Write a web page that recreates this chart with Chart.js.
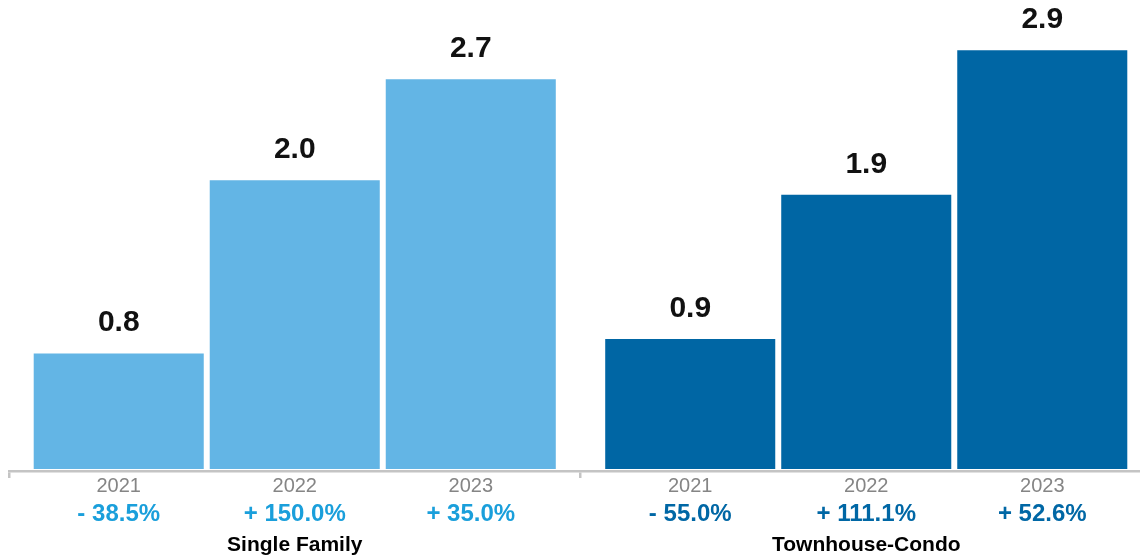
<!DOCTYPE html>
<html>
<head>
<meta charset="utf-8">
<script src="https://cdn.jsdelivr.net/npm/chart.js@4"></script>
<style>
  html, body { margin: 0; padding: 0; background: #fff; overflow: hidden; }
  .chart-wrap { position: relative; width: 1161px; height: 558px; }
</style>
</head>
<body>
<div class="chart-wrap">
  <canvas id="inventoryChart"></canvas>
</div>
<script>
// Chart data
const groups = ['Single Family', 'Townhouse-Condo'];
const years = ['2021', '2022', '2023'];
const singleFamily = [0.8, 2.0, 2.7];
const townhouseCondo = [0.9, 1.9, 2.9];
const singleFamilyChange = ['- 38.5%', '+ 150.0%', '+ 35.0%'];
const townhouseCondoChange = ['- 55.0%', '+ 111.1%', '+ 52.6%'];

const FONT = 'Helvetica, Arial, "Liberation Sans", sans-serif';
const barColors = ['#63b5e5', '#0066a4'];
const changeColors = ['#1a9fdb', '#0067a5'];
const changeLabels = [singleFamilyChange, townhouseCondoChange];

// Value labels above bars, year + change labels below the axis
const barLabels = {
  id: 'barLabels',
  afterDatasetsDraw(chart) {
    const ctx = chart.ctx;
    const axisTop = chart.scales.x.top;
    ctx.save();
    ctx.textAlign = 'center';
    ctx.textBaseline = 'alphabetic';
    chart.data.datasets.forEach((ds, i) => {
      const meta = chart.getDatasetMeta(i);
      meta.data.forEach((bar, g) => {
        ctx.fillStyle = '#111';
        ctx.font = 'bold 30px ' + FONT;
        ctx.fillText(ds.data[g].toFixed(1), bar.x, bar.y - 22);

        ctx.fillStyle = '#858585';
        ctx.font = '20px ' + FONT;
        ctx.fillText(years[i], bar.x, axisTop + 21);

        ctx.fillStyle = changeColors[g];
        ctx.font = 'bold 24px ' + FONT;
        ctx.fillText(changeLabels[g][i], bar.x, axisTop + 50);
      });
    });
    ctx.restore();
  }
};

const datasets = years.map((year, i) => ({
  label: year,
  data: [singleFamily[i], townhouseCondo[i]],
  backgroundColor: barColors,
  borderWidth: 0,
  categoryPercentage: 0.924,
  barPercentage: 0.966
}));

new Chart(document.getElementById('inventoryChart').getContext('2d'), {
  type: 'bar',
  data: {
    labels: groups,
    datasets: datasets
  },
  options: {
    responsive: true,
    maintainAspectRatio: false,
    animation: false,
    layout: {
      padding: { top: 7, left: 9, right: 9, bottom: 0 }
    },
    plugins: {
      legend: { display: false },
      tooltip: { enabled: false }
    },
    scales: {
      x: {
        offset: true,
        afterFit: (scale) => { scale.height = 87; },
        border: { display: true, color: '#c4c4c4', width: 2.5 },
        grid: {
          offset: true,
          drawOnChartArea: false,
          drawTicks: true,
          tickLength: 7,
          color: '#c4c4c4',
          lineWidth: 2.5
        },
        ticks: {
          padding: 55,
          color: '#000',
          font: { family: FONT, size: 21, weight: 'bold' }
        }
      },
      y: {
        display: false,
        min: -0.014,
        max: 3.2
      }
    }
  },
  plugins: [barLabels]
});
</script>
</body>
</html>
